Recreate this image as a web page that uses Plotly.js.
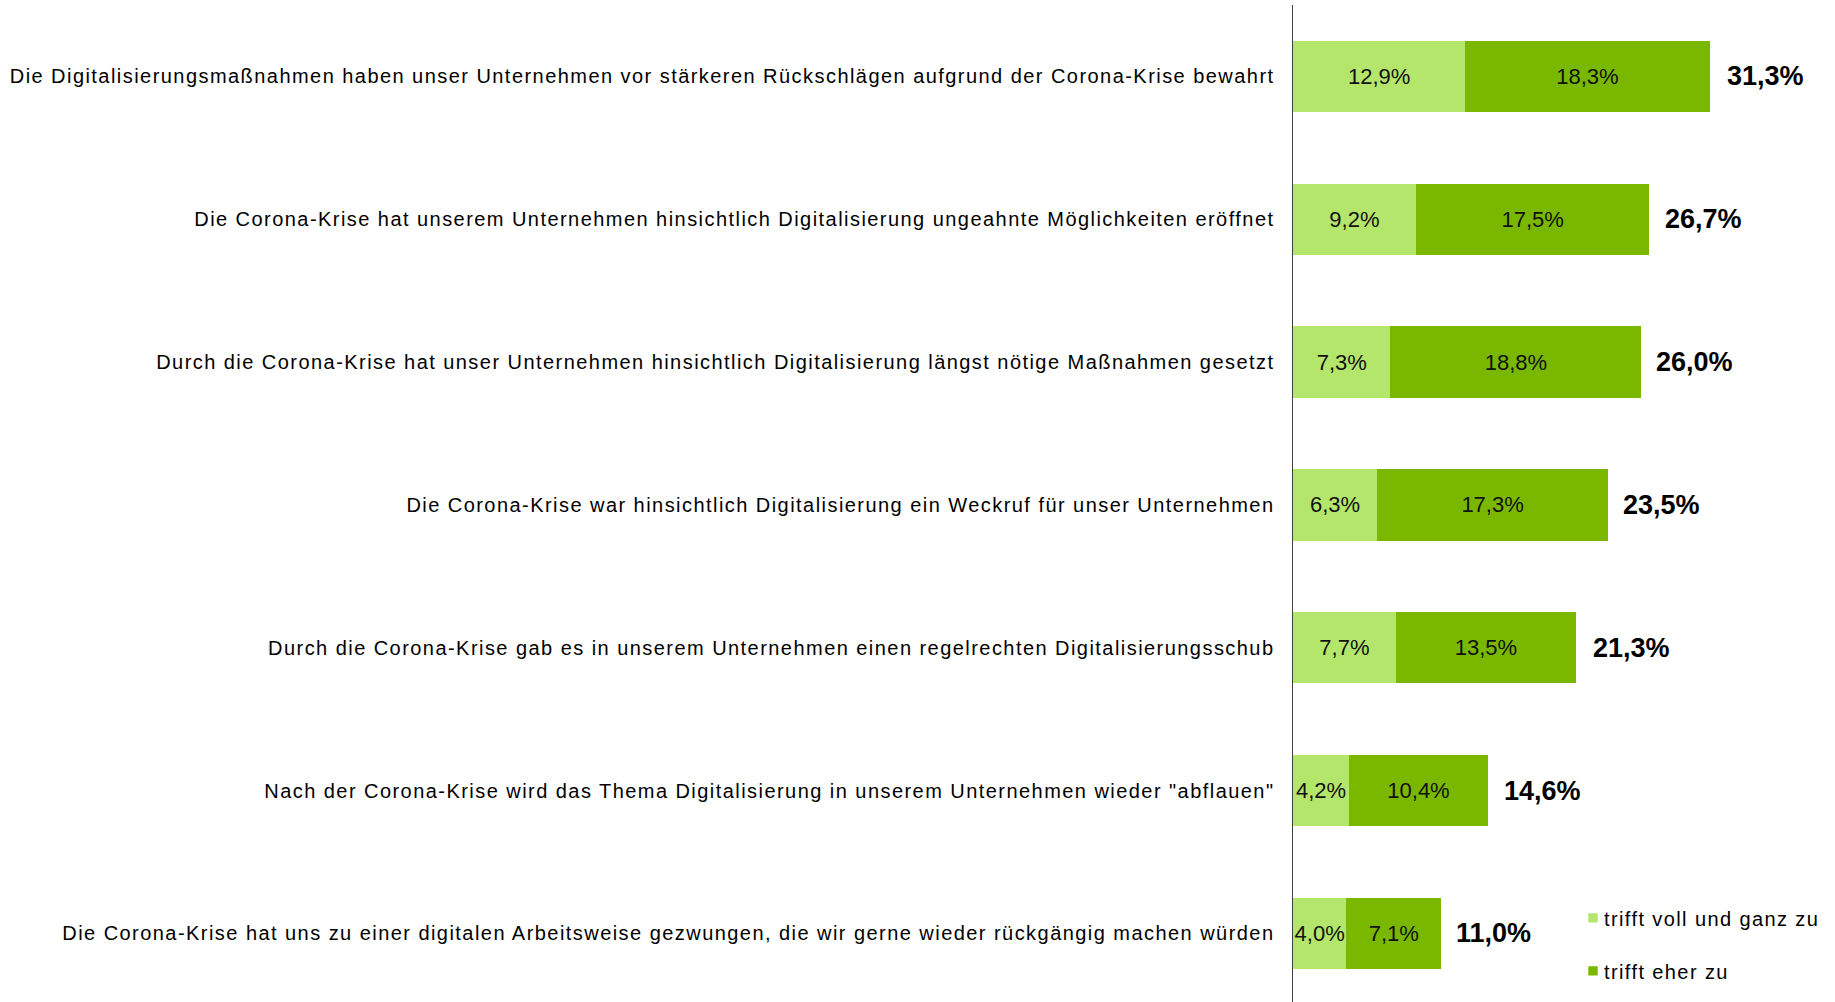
<!DOCTYPE html>
<html>
<head>
<meta charset="utf-8">
<script src="https://cdn.plot.ly/plotly-3.0.1.min.js"></script>
<style>
  html, body { margin: 0; padding: 0; background: #fff; }
  #chart { width: 1835px; height: 1002px; }
  .ytick text { letter-spacing: 1.45px; }
  .legendtext { letter-spacing: 1.4px; }
  .legend .legendpoints path { transform: translate(29px, 0px) scale(0.78); }
</style>
</head>
<body>
<div id="chart"></div>
<script>
const categories = [
  'Die Digitalisierungsmaßnahmen haben unser Unternehmen vor stärkeren Rückschlägen aufgrund der Corona-Krise bewahrt',
  'Die Corona-Krise hat unserem Unternehmen hinsichtlich Digitalisierung ungeahnte Möglichkeiten eröffnet',
  'Durch die Corona-Krise hat unser Unternehmen hinsichtlich Digitalisierung längst nötige Maßnahmen gesetzt',
  'Die Corona-Krise war hinsichtlich Digitalisierung ein Weckruf für unser Unternehmen',
  'Durch die Corona-Krise gab es in unserem Unternehmen einen regelrechten Digitalisierungsschub',
  'Nach der Corona-Krise wird das Thema Digitalisierung in unserem Unternehmen wieder "abflauen"',
  'Die Corona-Krise hat uns zu einer digitalen Arbeitsweise gezwungen, die wir gerne wieder rückgängig machen würden'
];
const seriesNames = ['trifft voll und ganz zu', 'trifft eher zu'];
const trifftVoll = [12.9, 9.2, 7.3, 6.3, 7.7, 4.2, 4.0];
const trifftEher = [18.3, 17.5, 18.8, 17.3, 13.5, 10.4, 7.1];
const totals = [31.3, 26.7, 26.0, 23.5, 21.3, 14.6, 11.0];

const FONT = 'Liberation Sans, Arial, sans-serif';
const colors = ['#b3e66b', '#7ab800'];

const traces = [trifftVoll, trifftEher].map((vals, i) => ({
  type: 'bar',
  orientation: 'h',
  name: seriesNames[i],
  legendgroup: 'g' + i,
  y: categories,
  x: vals,
  marker: { color: colors[i], line: { width: 0 } },
  texttemplate: '%{x:.1f}%',
  textposition: 'inside',
  insidetextanchor: 'middle',
  textangle: 0,
  constraintext: 'none',
  insidetextfont: { family: FONT, size: 22, color: '#111111' },
  hoverinfo: 'skip',
  cliponaxis: false
}));

const annotations = categories.map((c, i) => ({
  x: totals[i],
  y: c,
  xref: 'x',
  yref: 'y',
  text: totals[i].toFixed(1).replace('.', ',') + '%',
  showarrow: false,
  xanchor: 'left',
  xshift: 14,
  font: { family: FONT, size: 27, color: '#000000', weight: 'bold' }
}));

const layout = {
  width: 1835,
  height: 1002,
  margin: { l: 1293, r: 0, t: 5, b: 0, pad: 0 },
  barmode: 'stack',
  bargap: 0.5,
  separators: ',.',
  paper_bgcolor: '#ffffff',
  plot_bgcolor: '#ffffff',
  font: { family: FONT, color: '#000000' },
  showlegend: true,
  legend: {
    x: 0.5, xanchor: 'left',
    y: 0.104, yanchor: 'top',
    font: { family: FONT, size: 20, color: '#000000' },
    traceorder: 'grouped',
    tracegroupgap: 24,
    bgcolor: 'rgba(0,0,0,0)'
  },
  xaxis: {
    range: [0, 40.6],
    showgrid: false,
    zeroline: false,
    showline: false,
    showticklabels: false,
    ticks: ''
  },
  yaxis: {
    type: 'category',
    range: [6.48, -0.5],
    showgrid: false,
    zeroline: false,
    showline: true,
    linecolor: '#404040',
    linewidth: 1.5,
    ticks: '',
    ticklabelstandoff: 13,
    tickfont: { family: FONT, size: 20, color: '#000000' }
  },
  annotations: annotations
};

Plotly.newPlot('chart', traces, layout, { displayModeBar: false, staticPlot: true });
</script>
</body>
</html>
